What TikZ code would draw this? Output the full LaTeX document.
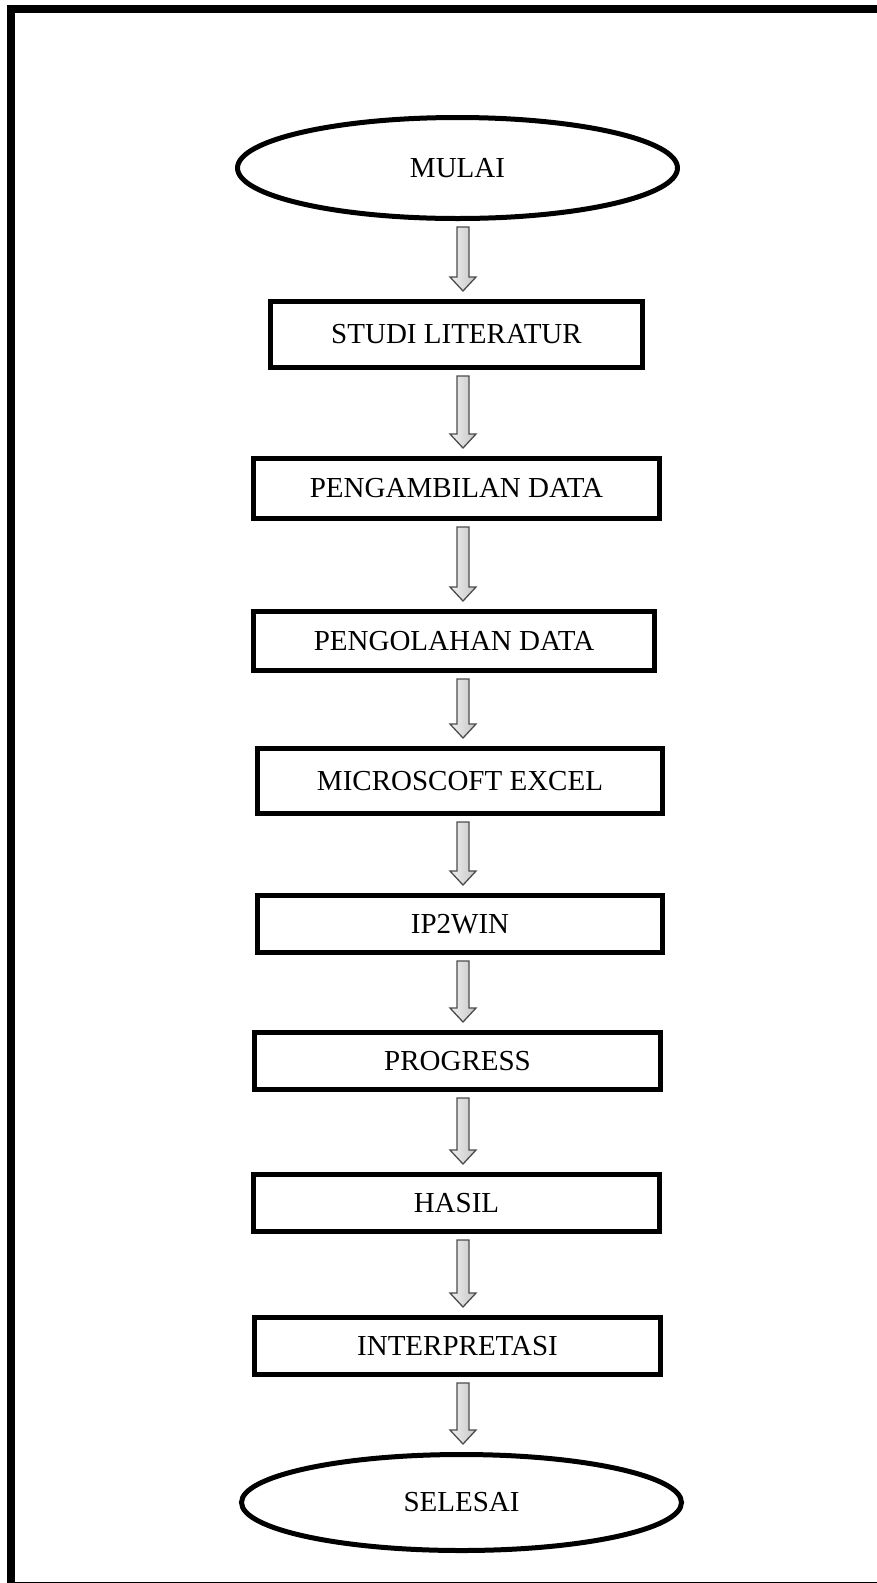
\documentclass[tikz,border=0pt]{standalone}
\usepackage{fontspec}
\setmainfont{Liberation Serif}
\usetikzlibrary{calc,shapes.geometric}

\newcommand{\flowarrow}[2]{%
    \path ($(#1.south -| axis)+(0pt,-6pt)$) coordinate (t)
          ($(#2.north -| axis)+(0pt,8pt)$) coordinate (h);
    \draw[arrowbody] ($(t)+(-6pt,0pt)$) -- ($(t)+(6pt,0pt)$) -- ($(h)+(6pt,14pt)$)
        -- ($(h)+(13pt,14pt)$) -- (h) -- ($(h)+(-13pt,14pt)$) -- ($(h)+(-6pt,14pt)$) -- cycle;
}

\begin{document}
\begin{tikzpicture}[x=1pt, y=-1pt,
        every node/.style = {font=\fontsize{29}{34}\selectfont, inner sep=0pt},
        stepbox/.style = {shape=rectangle, draw, line width=5pt, minimum width=#1},
        stepbox/.default = 406pt,
        terminal/.style = {shape=ellipse, draw, line width=5pt, minimum width=440pt},
        arrowbody/.style = {draw=gray!60!black, line width=1.3pt, line join=miter,
            left color=gray!12, right color=gray!45}]
    \useasboundingbox (0,0) rectangle (877,1583);
    \draw[line width=8pt] (11,9) rectangle (900,1585.5);
    \coordinate (axis) at (463,0);
    \node[terminal, minimum height=101pt] (mulai) at (457.5,168) {MULAI};
    \node[stepbox=372pt, minimum height=66pt] (studi) at (456.5,334.5) {STUDI LITERATUR};
    \node[stepbox, minimum height=60pt] (ambil) at (456.5,488.5) {PENGAMBILAN DATA};
    \node[stepbox=401pt, minimum height=59pt] (olah) at (454,641) {PENGOLAHAN DATA};
    \node[stepbox=405pt, minimum height=65pt] (excel) at (460,781) {MICROSCOFT EXCEL};
    \node[stepbox=405pt, minimum height=57pt] (ipwin) at (460,924) {IP2WIN};
    \node[stepbox, minimum height=57pt] (progress) at (457.5,1061) {PROGRESS};
    \node[stepbox, minimum height=57pt] (hasil) at (456.5,1203) {HASIL};
    \node[stepbox, minimum height=57pt] (interp) at (457.5,1346) {INTERPRETASI};
    \node[terminal, minimum height=96pt] (selesai) at (461.5,1502.5) {SELESAI};
    \foreach \a/\b in {mulai/studi, studi/ambil, ambil/olah, olah/excel, excel/ipwin,
            ipwin/progress, progress/hasil, hasil/interp, interp/selesai}
        \flowarrow{\a}{\b};
\end{tikzpicture}
\end{document}
